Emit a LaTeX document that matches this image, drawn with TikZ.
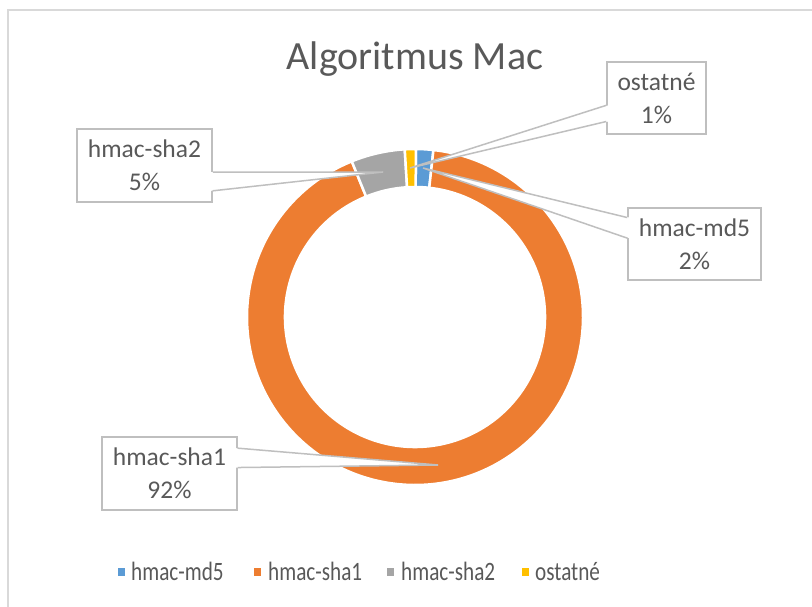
\documentclass[tikz,border=0pt]{standalone}
\usepackage{fontspec}
\setmainfont{Carlito}
\usepackage{xcolor}
\usepackage{tikz}
\usetikzlibrary{calc}
\definecolor{mdblue}{HTML}{5B9BD5}
\definecolor{shaorange}{HTML}{ED7D31}
\definecolor{shagray}{HTML}{A5A5A5}
\definecolor{ostyellow}{HTML}{FFC000}
\definecolor{boxgray}{HTML}{BFBFBF}
\definecolor{framegray}{HTML}{D9D9D9}
\definecolor{txtgray}{HTML}{595959}
\tikzstyle{seg}=[draw=white,line width=2.5pt,line join=miter]
\tikzstyle{lbl}=[draw=boxgray,fill=white,line width=1.5pt,text=txtgray,align=center,inner sep=0pt,
  font=\fontsize{25.5}{33}\selectfont]
\tikzstyle{lead}=[draw=boxgray,line width=1.5pt]
\tikzstyle{key}=[inner sep=0pt,minimum width=7pt,minimum height=8pt,anchor=north west]
\tikzstyle{legtxt}=[anchor=base west,inner sep=0pt,text=txtgray,font=\fontsize{26.5}{30}\selectfont]
% donut piece: colour, start angle, end angle (clockwise on the page)
\newcommand\ringseg[3]{\fill[seg,fill=#1] (#2:168) arc[start angle=#2,end angle=#3,radius=168]
  -- (#3:130) arc[start angle=#3,end angle=#2,radius=130] -- cycle;}
% callout pointer: box, first edge point, second edge point, tip, inward shift
\newcommand\pointer[5]{%
  \fill[white] ($(#2)+(#5,0)$) -- (#4) -- ($(#3)+(#5,0)$) -- cycle;
  \draw[lead] (#2) -- (#4) -- (#3);}
\newcommand\legname[1]{\scalebox{0.8}[1]{#1}}
\begin{document}
\begin{tikzpicture}[x=1pt,y=-1pt]
	\useasboundingbox (0,0) rectangle (812,607);
	\draw[framegray,line width=1.5pt] (8,10) rectangle (830,630);
	\node[anchor=base,inner sep=0pt,text=txtgray,font=\fontsize{40}{48}\selectfont] (ttl) at (415,70) {Algoritmus Mac};
	\begin{scope}[shift={(415,317)}]
		\ringseg{mdblue}{-89.7}{-83.7}
		\ringseg{shaorange}{-83.7}{247.9}
		\ringseg{shagray}{247.9}{266.5}
		\ringseg{ostyellow}{266.5}{270.3}
	\end{scope}
	\coordinate (tMd5) at (423,168);
	\coordinate (tSha1) at (438,465);
	\coordinate (tSha2) at (383,172);
	\coordinate (tOst) at (410,168);
	\node[lbl,minimum width=135pt,minimum height=73pt] (sha1) at (169.5,473.5) {hmac-sha1\\92\%};
	\node[lbl,minimum width=135pt,minimum height=73pt] (sha2) at (144.5,165.5) {hmac-sha2\\5\%};
	\node[lbl,minimum width=99pt,minimum height=72pt] (ost) at (656.5,98) {ostatné\\1\%};
	\node[lbl,minimum width=133pt,minimum height=72pt] (md5) at (694.5,244) {hmac-md5\\2\%};
	\coordinate (s1a) at ($(sha1.north east)!.16!(sha1.south east)$);
	\coordinate (s1b) at ($(sha1.north east)!.42!(sha1.south east)$);
	\coordinate (s2a) at ($(sha2.north east)!.59!(sha2.south east)$);
	\coordinate (s2b) at ($(sha2.north east)!.84!(sha2.south east)$);
	\coordinate (oa) at ($(ost.north west)!.60!(ost.south west)$);
	\coordinate (ob) at ($(ost.north west)!.82!(ost.south west)$);
	\coordinate (ma) at ($(md5.north west)!.14!(md5.south west)$);
	\coordinate (mb) at ($(md5.north west)!.42!(md5.south west)$);
	\pointer{sha1}{s1a}{s1b}{tSha1}{-2}
	\pointer{sha2}{s2a}{s2b}{tSha2}{-2}
	\pointer{ost}{oa}{ob}{tOst}{2}
	\pointer{md5}{ma}{mb}{tMd5}{2}
	% legend
	\node[key,fill=mdblue] (kMd5) at (118,568) {};
	\node[legtxt] (lMd5) at (131,580) {\legname{hmac-md5}};
	\node[key,fill=shaorange] (kSha1) at (254,568) {};
	\node[legtxt] (lSha1) at (268,580) {\legname{hmac-sha1}};
	\node[key,fill=shagray] (kSha2) at (387,568) {};
	\node[legtxt] (lSha2) at (401,580) {\legname{hmac-sha2}};
	\node[key,fill=ostyellow] (kOst) at (522,568) {};
	\node[legtxt] (lOst) at (535,580) {\legname{ostatné}};
\end{tikzpicture}
\end{document}
